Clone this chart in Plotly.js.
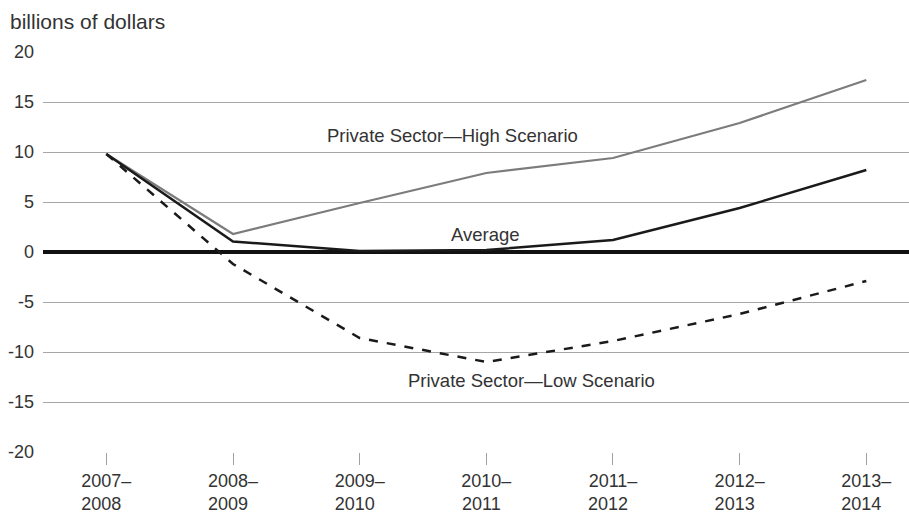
<!DOCTYPE html>
<html>
<head>
<meta charset="utf-8">
<script src="https://cdn.plot.ly/plotly-3.0.1.min.js"></script>
<style>
  html, body { margin: 0; padding: 0; background: #fff; }
  #chart { width: 909px; height: 513px; }
</style>
</head>
<body>
<div id="chart"></div>
<script>
const categories = ["2007–2008", "2008–2009", "2009–2010", "2010–2011", "2011–2012", "2012–2013", "2013–2014"];
const tickFirst = ["2007–", "2008–", "2009–", "2010–", "2011–", "2012–", "2013–"];
const tickSecond = ["2008", "2009", "2010", "2011", "2012", "2013", "2014"];
const highScenario = [9.8, 1.8, 4.9, 7.9, 9.4, 12.9, 17.2];
const average = [9.8, 1.05, 0.1, 0.2, 1.2, 4.4, 8.2];
const lowScenario = [9.8, -1.2, -8.6, -11.0, -8.9, -6.2, -2.9];
const yTicks = [20, 15, 10, 5, 0, -5, -10, -15, -20];

const font = "Liberation Sans, Arial, Helvetica, sans-serif";
const textColor = "#333333";

const tickText = tickFirst.map((a, i) =>
  a + "<br>" + tickSecond[i] + "<span style='color:rgba(0,0,0,0)'>–</span>");

const traces = [
  { x: categories, y: highScenario, type: "scatter", mode: "lines",
    line: { color: "#7c7c7c", width: 2.2 }, hoverinfo: "skip" },
  { x: categories, y: lowScenario, type: "scatter", mode: "lines",
    line: { color: "#1a1a1a", width: 2.5, dash: "dash" }, hoverinfo: "skip" },
  { x: categories, y: average, type: "scatter", mode: "lines",
    line: { color: "#1a1a1a", width: 2.5 }, hoverinfo: "skip" }
];

const layout = {
  width: 909, height: 513,
  margin: { l: 43, r: 0, t: 52, b: 61 },
  paper_bgcolor: "#ffffff", plot_bgcolor: "#ffffff",
  showlegend: false,
  font: { family: font, size: 18, color: textColor },
  xaxis: {
    type: "category",
    range: [-0.5, 6.337],
    tickvals: categories,
    ticktext: tickText,
    ticks: "outside", ticklen: 12, tickwidth: 1, tickcolor: "#a0a0a0",
    showgrid: false, zeroline: false, showline: false,
    tickfont: { family: font, size: 18, color: textColor }
  },
  yaxis: {
    range: [-20, 20],
    tickvals: yTicks,
    ticktext: yTicks.map(String),
    showgrid: true, gridcolor: "#a6a6a6", gridwidth: 1,
    zeroline: true, zerolinecolor: "#111111", zerolinewidth: 4,
    showline: false, ticks: "",
    ticklabelstandoff: 8,
    tickfont: { family: font, size: 18, color: textColor }
  },
  annotations: [
    { xref: "paper", yref: "paper", x: -43 / 866, y: 1 + 31 / 400,
      xanchor: "left", yanchor: "middle", showarrow: false,
      xshift: 8,
      text: "billions of dollars", font: { family: font, size: 21, color: textColor } },
    { xref: "x", yref: "y", x: 2.73, y: 11.7, showarrow: false,
      xanchor: "center", yanchor: "middle",
      text: "Private Sector—High Scenario", font: { family: font, size: 18.5, color: textColor } },
    { xref: "x", yref: "y", x: 2.99, y: 1.8, showarrow: false,
      xanchor: "center", yanchor: "middle",
      text: "Average", font: { family: font, size: 18.5, color: textColor } },
    { xref: "x", yref: "y", x: 3.36, y: -12.87, showarrow: false,
      xanchor: "center", yanchor: "middle",
      text: "Private Sector—Low Scenario", font: { family: font, size: 18.5, color: textColor } }
  ]
};

Plotly.newPlot("chart", traces, layout, { displayModeBar: false, staticPlot: true });
</script>
</body>
</html>
